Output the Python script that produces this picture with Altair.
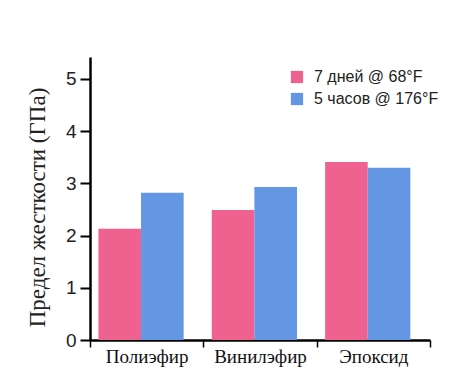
import altair as alt
import pandas as pd

categories = ["Полиэфир", "Винилэфир", "Эпоксид"]
series = ["7 дней @ 68°F", "5 часов @ 176°F"]
values_7d = [2.13, 2.49, 3.41]
values_5h = [2.82, 2.93, 3.30]
colors = ["#ef6290", "#6396e3"]

rows = []
for c, a, b in zip(categories, values_7d, values_5h):
    rows.append({"cat": c, "series": series[0], "val": a})
    rows.append({"cat": c, "series": series[1], "val": b})
df = pd.DataFrame(rows)

chart = alt.Chart(df).mark_bar().encode(
    x=alt.X("cat:N", sort=categories, title=None,
            scale=alt.Scale(paddingInner=0, paddingOuter=0),
            axis=alt.Axis(labelAngle=0, labelFont="Liberation Serif", labelFontSize=19,
                          labelColor="#111", tickBand="extent", tickSize=7,
                          tickColor="#000", tickWidth=1.5, domainColor="#000",
                          domainWidth=2.5, labelPadding=0)),
    xOffset=alt.XOffset("series:N", sort=series,
                        scale=alt.Scale(paddingInner=0, paddingOuter=0.33, align=0.3)),
    y=alt.Y("val:Q", title="Предел жесткости (ГПа)",
            scale=alt.Scale(domain=[0, 5.42], nice=False),
            axis=alt.Axis(values=[0, 1, 2, 3, 4, 5], format="d", labelFont="Liberation Sans",
                          labelFontSize=19, labelColor="#222", tickSize=10, tickWidth=2,
                          tickColor="#000", domainColor="#000", domainWidth=2.5,
                          labelPadding=4, grid=False, titleFont="Liberation Serif",
                          titleFontSize=23, titleFontWeight="normal", titleColor="#222",
                          titlePadding=16, titleY=150)),
    color=alt.Color("series:N", sort=series,
                    scale=alt.Scale(domain=series, range=colors),
                    legend=alt.Legend(title=None, orient="none", legendX=199, legendY=12,
                                      symbolType="square", symbolSize=150,
                                      symbolStrokeWidth=0, labelFont="Liberation Sans",
                                      labelFontSize=16, labelColor="#222", labelOffset=9,
                                      rowPadding=6, symbolOffset=0, labelLimit=300)),
).properties(
    width=340, height=283,
    padding={"left": 82, "top": 49, "right": 10, "bottom": 30},
    autosize=alt.AutoSizeParams(type="none"),
).configure_view(stroke=None)

chart.save("out.html", embed_options={"renderer": "svg", "actions": False})
